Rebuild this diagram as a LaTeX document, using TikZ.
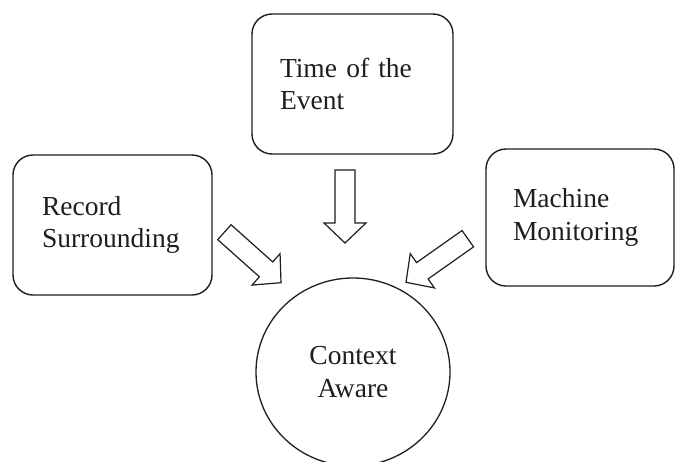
\documentclass[tikz,border=0pt]{standalone}
\usepackage{fontspec}
\setmainfont{Liberation Serif}
\usetikzlibrary{calc,shapes.geometric}

\definecolor{ink}{HTML}{1E1E1E}

% hollow block arrow from tail #1 to tip #2
\newcommand\hollowarrow[2]{%
  \draw[blockarrow]
    ($(#1)!10pt!90:(#2)$) --
    ($($(#2)!20pt!(#1)$)!10pt!90:(#2)$) --
    ($($(#2)!20pt!(#1)$)!21pt!90:(#2)$) --
    (#2) --
    ($($(#2)!20pt!(#1)$)!21pt!-90:(#2)$) --
    ($($(#2)!20pt!(#1)$)!10pt!-90:(#2)$) --
    ($(#1)!10pt!-90:(#2)$) -- cycle;}

\begin{document}
\begin{tikzpicture}[x=1pt,y=-1pt,
  every node/.style={text=ink, font=\fontsize{27.5}{32.5}\selectfont},
  factor/.style={draw=ink, line width=1.4pt, rounded corners=20pt,
    align=left, inner xsep=0pt, inner ysep=0pt},
  hub/.style={draw=ink, line width=1.3pt, ellipse, align=center,
    minimum width=194pt, minimum height=188pt},
  blockarrow/.style={draw=ink, line width=1.2pt, line join=miter, fill=white}]
  \useasboundingbox (0,0) rectangle (675,461);

  % the three factors
  \node[factor, minimum width=201pt, minimum height=140pt, text width=145pt]
    (time) at (352.5,84) {Time of the\\Event};
  \node[factor, minimum width=199pt, minimum height=140pt, text width=141pt]
    (record) at (112.5,225) {Record\\Surrounding};
  \node[factor, minimum width=188pt, minimum height=137pt, text width=134pt]
    (machine) at (580,217.5) {Machine\\Monitoring};

  % the common result
  \node[hub] (context) at (353,372) {Context\\Aware};

  % block arrows pointing at the result
  \coordinate (tA) at (345,170);   \coordinate (pA) at (345,243);
  \coordinate (tB) at (224.4,232.2); \coordinate (pB) at (281,282.7);
  \coordinate (tC) at (467.8,238.7); \coordinate (pC) at (406,282.3);
  \hollowarrow{tA}{pA}
  \hollowarrow{tB}{pB}
  \hollowarrow{tC}{pC}
\end{tikzpicture}
\end{document}
